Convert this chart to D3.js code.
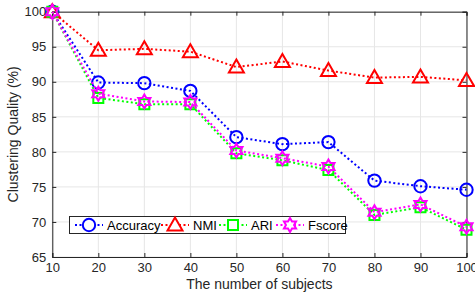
<!DOCTYPE html>
<html><head><meta charset="utf-8">
<script src="https://cdn.jsdelivr.net/npm/d3@7"></script>
<style>body{margin:0;background:#fff;}svg{display:block;font-family:"Liberation Sans",Arial,sans-serif;}</style>
</head><body>
<svg id="chart" width="475" height="295"></svg>
<script>
const subjects = [10,20,30,40,50,60,70,80,90,100];
const accuracy = [100,89.9,89.8,88.7,82.1,81.1,81.4,75.9,75.1,74.6];
const nmi      = [100,94.5,94.7,94.3,92.1,92.9,91.6,90.6,90.7,90.2];
const ari      = [100,87.7,86.8,86.8,79.8,78.8,77.4,71.0,72.1,68.9];
const fscore   = [100,88.3,87.2,87.1,80.2,79.1,77.9,71.4,72.5,69.3];
const seriesNames = ["Accuracy","NMI","ARI","Fscore"];
const xTicks = [10,20,30,40,50,60,70,80,90,100];
const yTicks = [65,70,75,80,85,90,95,100];
const xTitle = "The number of subjects";
const yTitle = "Clustering Quality (%)";

const series = [
  {name:seriesNames[0], values:accuracy, color:"#0000ff", marker:"circle"},
  {name:seriesNames[1], values:nmi, color:"#ff0000", marker:"triangle"},
  {name:seriesNames[2], values:ari, color:"#00ff00", marker:"square"},
  {name:seriesNames[3], values:fscore, color:"#ff00ff", marker:"hexagram"}
];

const svg = d3.select("#chart");
const L=52.3, R=466.5, T=11.7, B=257;
const x = d3.scaleLinear().domain([10,100]).range([L,R]);
const y = d3.scaleLinear().domain([65,100]).range([B,T]);
const axisColor="#262626";

// grid
const g = svg.append("g");
g.selectAll(".gx").data(xTicks).enter().append("line")
  .attr("x1",d=>x(d)).attr("x2",d=>x(d)).attr("y1",T).attr("y2",B)
  .attr("stroke","#e6e6e6").attr("stroke-width",1);
g.selectAll(".gy").data(yTicks).enter().append("line")
  .attr("x1",L).attr("x2",R).attr("y1",d=>y(d)).attr("y2",d=>y(d))
  .attr("stroke","#e6e6e6").attr("stroke-width",1);

// axes
const xAxis = d3.axisBottom(x).tickValues(xTicks).tickSize(-4).tickPadding(8).tickFormat(d3.format("d"));
const yAxis = d3.axisLeft(y).tickValues(yTicks).tickSize(-4).tickPadding(6).tickFormat(d3.format("d"));
const xa = svg.append("g").attr("transform",`translate(0,${B})`).call(xAxis);
const ya = svg.append("g").attr("transform",`translate(${L},0)`).call(yAxis);
const xt = svg.append("g").attr("transform",`translate(0,${T})`).call(d3.axisTop(x).tickValues(xTicks).tickSize(-4).tickFormat(""));
const yr = svg.append("g").attr("transform",`translate(${R},0)`).call(d3.axisRight(y).tickValues(yTicks).tickSize(-4).tickFormat(""));
[xa,ya,xt,yr].forEach(a=>{
  a.select(".domain").attr("stroke",axisColor).attr("stroke-width",1);
  a.selectAll(".tick line").attr("stroke",axisColor);
  a.selectAll("text").attr("fill","#262626").style("font-size","13px").style("font-family","'Liberation Sans',Arial,sans-serif");
});
xa.selectAll("text").attr("dy","0.55em");

svg.append("text").attr("x",(L+R)/2).attr("y",289).attr("text-anchor","middle")
  .style("font-size","14px").attr("fill","#262626").text(xTitle);
svg.append("text").attr("transform",`translate(18,${(T+B)/2}) rotate(-90)`).attr("text-anchor","middle")
  .style("font-size","14px").attr("fill","#262626").text(yTitle);

function markerPath(type){
  if(type==="circle") return d3.symbol(d3.symbolCircle, 120)();
  if(type==="triangle") return "M0,-7.5L7.5,5.5L-7.5,5.5Z";
  if(type==="square") return "M-5,-5L5,-5L5,5L-5,5Z";
  // hexagram
  const pts=[];
  for(let i=0;i<12;i++){
    const a=-Math.PI/2 + i*Math.PI/6;
    const r = i%2===0 ? 7 : 4.04;
    pts.push([r*Math.cos(a), r*Math.sin(a)]);
  }
  return "M"+pts.map(p=>p.join(",")).join("L")+"Z";
}

const line = d3.line().x((d,i)=>x(subjects[i])).y(d=>y(d));
series.forEach(s=>{
  svg.append("path").attr("d",line(s.values)).attr("fill","none")
    .attr("stroke",s.color).attr("stroke-width",2).attr("stroke-dasharray","2,2.5");
  svg.selectAll(null).data(s.values).enter().append("path")
    .attr("d",markerPath(s.marker))
    .attr("transform",(d,i)=>`translate(${x(subjects[i])},${y(d)})`)
    .attr("fill","none").attr("stroke",s.color).attr("stroke-width",2);
});

// legend
const lg = svg.append("g");
lg.append("rect").attr("x",69.5).attr("y",216.5).attr("width",276).attr("height",17)
  .attr("fill","#fff").attr("stroke",axisColor).attr("stroke-width",1);
const legendPos=[89,175,233,290];
series.forEach((s,i)=>{
  const cx=legendPos[i], cy=225;
  lg.append("line").attr("x1",cx-14).attr("x2",cx+14).attr("y1",cy).attr("y2",cy)
    .attr("stroke",s.color).attr("stroke-width",2).attr("stroke-dasharray","2,2.5");
  lg.append("path").attr("d",markerPath(s.marker)).attr("transform",`translate(${cx},${cy})`)
    .attr("fill","#fff").attr("stroke",s.color).attr("stroke-width",2);
  lg.append("text").attr("x",cx+18).attr("y",cy).attr("dy","0.35em")
    .style("font-size","13px").attr("fill","#000").text(s.name);
});
</script>
</body></html>
